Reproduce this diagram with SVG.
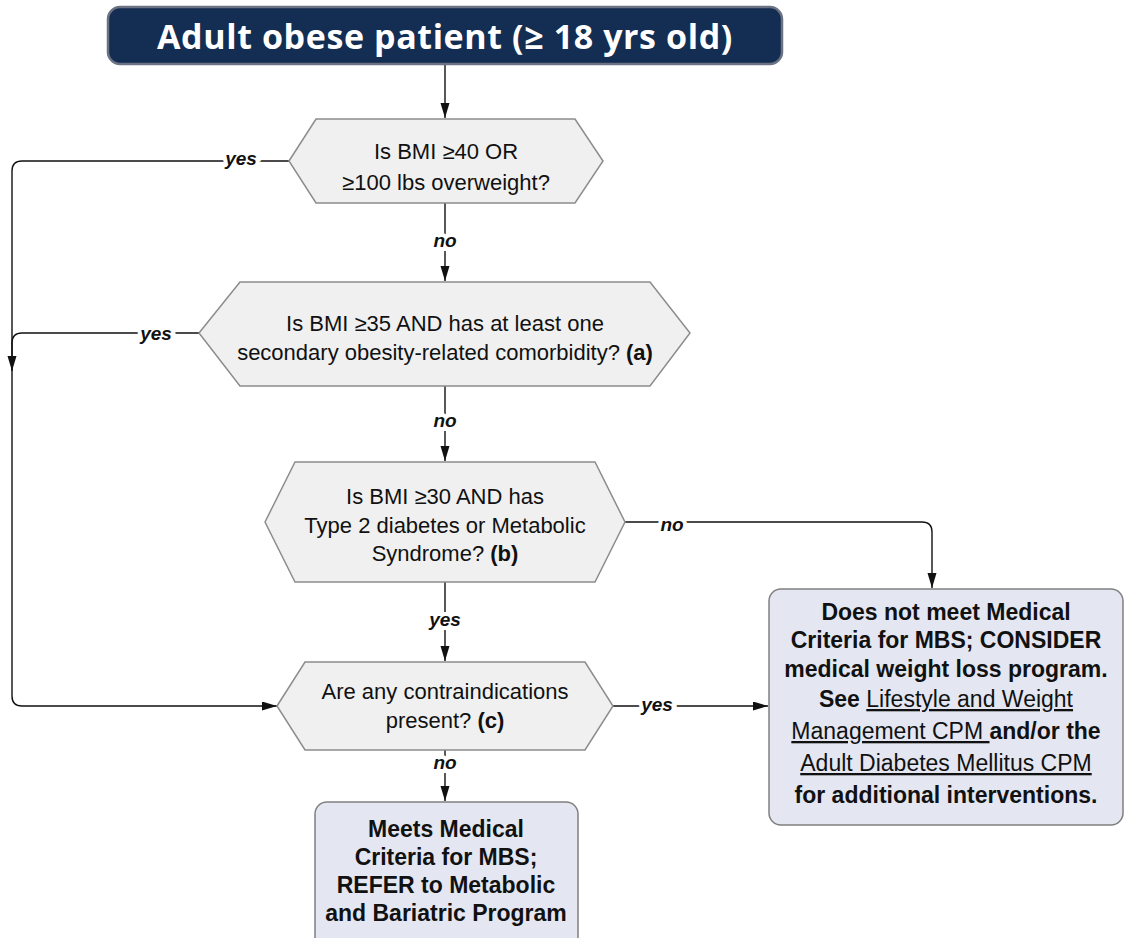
<svg xmlns="http://www.w3.org/2000/svg" width="1124" height="938" viewBox="0 0 1124 938">
<style>
.hex{fill:#f0f0f0;stroke:#8c8c8c;stroke-width:1.5}
.box{fill:#e4e7f1;stroke:#808080;stroke-width:1.5}
.t{font-family:"Liberation Sans",Arial,sans-serif;font-size:22px;fill:#111;text-anchor:middle}
.b{font-family:"Liberation Sans",Arial,sans-serif;font-size:23px;font-weight:bold;fill:#111;text-anchor:middle}
.u{font-weight:normal;text-decoration:underline}
.lbl{font-family:"Liberation Sans",Arial,sans-serif;font-size:19px;font-weight:bold;font-style:italic;fill:#111;text-anchor:middle;stroke:#fff;stroke-width:8;paint-order:stroke}
.c{fill:none;stroke:#111;stroke-width:1.4}
</style>
<defs>
<marker id="ah" markerUnits="userSpaceOnUse" markerWidth="15" markerHeight="10" refX="15" refY="4.5" orient="auto">
<path d="M0,0 L15,4.5 L0,9 z" fill="#111"/>
</marker>
</defs>
<g id="connectors">
<path class="c" d="M445,64 V118" marker-end="url(#ah)"/>
<path class="c" d="M289,161 H22 Q12,161 12,171 V696 Q12,706 22,706 H277" marker-end="url(#ah)"/>
<path class="c" d="M199,333 H22 Q12,333 12,343 V371" marker-end="url(#ah)"/>
<path class="c" d="M445,203 V281" marker-end="url(#ah)"/>
<path class="c" d="M445,386 V461" marker-end="url(#ah)"/>
<path class="c" d="M625,522 H922 Q932,522 932,532 V588" marker-end="url(#ah)"/>
<path class="c" d="M445,582 V661" marker-end="url(#ah)"/>
<path class="c" d="M613,706 H768" marker-end="url(#ah)"/>
<path class="c" d="M445,750 V801" marker-end="url(#ah)"/>
<text class="lbl" x="241" y="165">yes</text>
<text class="lbl" x="445" y="247">no</text>
<text class="lbl" x="156" y="340">yes</text>
<text class="lbl" x="445" y="427">no</text>
<text class="lbl" x="672" y="531">no</text>
<text class="lbl" x="445" y="626">yes</text>
<text class="lbl" x="657" y="711">yes</text>
<text class="lbl" x="445" y="769">no</text>
</g>
<g id="start">
<rect x="108" y="7" width="674" height="57" rx="12" fill="#142d52" stroke="#6b7282" stroke-width="2.5"/>
<text x="445" y="49" font-family="Open Sans,Liberation Sans,sans-serif" font-size="34" font-weight="bold" fill="#fff" text-anchor="middle" letter-spacing="0.6">Adult obese patient (≥ 18 yrs old)</text>
</g>
<g id="q1">
<polygon class="hex" points="289,161 316,119 575,119 603,161 575,203 316,203"/>
<text class="t" x="446" y="159">Is BMI ≥40 OR</text>
<text class="t" x="446" y="190">≥100 lbs overweight?</text>
</g>
<g id="q2">
<polygon class="hex" points="199,333 240,282 650,282 690,333 650,386 240,386"/>
<text class="t" x="445" y="331">Is BMI ≥35 AND has at least one</text>
<text class="t" x="445" y="360">secondary obesity-related comorbidity? <tspan font-weight="bold">(a)</tspan></text>
</g>
<g id="q3">
<polygon class="hex" points="265,522 295,462 595,462 625,522 595,582 295,582"/>
<text class="t" x="445" y="504">Is BMI ≥30 AND has</text>
<text class="t" x="445" y="533">Type 2 diabetes or Metabolic</text>
<text class="t" x="445" y="561">Syndrome? <tspan font-weight="bold">(b)</tspan></text>
</g>
<g id="q4">
<polygon class="hex" points="277,706 305,662 585,662 613,706 585,750 305,750"/>
<text class="t" x="445" y="699">Are any contraindications</text>
<text class="t" x="445" y="728">present? <tspan font-weight="bold">(c)</tspan></text>
</g>
<g id="refer">
<rect class="box" x="315" y="802" width="263" height="150" rx="12"/>
<text class="b" x="446" y="837">Meets Medical</text>
<text class="b" x="446" y="865">Criteria for MBS;</text>
<text class="b" x="446" y="893">REFER to Metabolic</text>
<text class="b" x="446" y="921">and Bariatric Program</text>
</g>
<g id="consider">
<rect class="box" x="769" y="589" width="354" height="236" rx="12"/>
<text class="b" x="946" y="620">Does not meet Medical</text>
<text class="b" x="946" y="648">Criteria for MBS; CONSIDER</text>
<text class="b" x="946" y="677">medical weight loss program.</text>
<text class="b" x="946" y="707">See <tspan class="u">Lifestyle and Weight </tspan></text>
<text class="b" x="946" y="739"><tspan class="u">Management CPM </tspan>and/or the</text>
<text class="b" x="946" y="771"><tspan class="u">Adult Diabetes Mellitus CPM</tspan></text>
<text class="b" x="946" y="803">for additional interventions.</text>
</g>
</svg>
